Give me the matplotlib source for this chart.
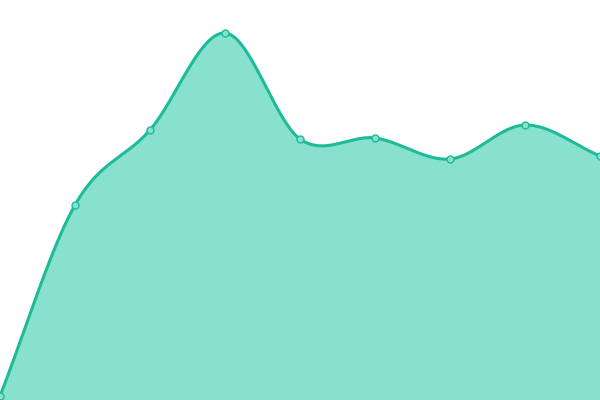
import numpy as np
import matplotlib
matplotlib.use('Agg')
import matplotlib.pyplot as plt

# values (bottom of chart = 0)
x_vals = [0, 1, 2, 3, 4, 5, 6, 7, 8]
y_vals = [4, 195, 270, 367, 261, 262, 241, 275, 244]

line_color = '#1dbb98'
fill_color = '#88e0cf'


def catmull_rom(xs, ys, steps=40):
    # smooth the line between the data points (display only)
    xs = np.asarray(xs, float)
    ys = np.asarray(ys, float)
    px = np.concatenate([[2 * xs[0] - xs[1]], xs, [2 * xs[-1] - xs[-2]]])
    py = np.concatenate([[2 * ys[0] - ys[1]], ys, [2 * ys[-1] - ys[-2]]])
    out_x, out_y = [], []
    for i in range(1, len(px) - 2):
        t = np.linspace(0, 1, steps, endpoint=False)
        for p, out in ((px, out_x), (py, out_y)):
            p0, p1, p2, p3 = p[i - 1], p[i], p[i + 1], p[i + 2]
            m1 = (p2 - p0) / 2
            m2 = (p3 - p1) / 2
            h00 = 2 * t**3 - 3 * t**2 + 1
            h10 = t**3 - 2 * t**2 + t
            h01 = -2 * t**3 + 3 * t**2
            h11 = t**3 - t**2
            out.extend(h00 * p1 + h10 * m1 + h01 * p2 + h11 * m2)
    out_x.append(xs[-1])
    out_y.append(ys[-1])
    return np.array(out_x), np.array(out_y)


sx, sy = catmull_rom(x_vals, y_vals)

fig = plt.figure(figsize=(6, 4), dpi=100)
ax = fig.add_axes([0, 0, 1, 1])
ax.fill_between(sx, 0, sy, color=fill_color, linewidth=0)
ax.plot(sx, sy, color=line_color, linewidth=2.2, solid_capstyle='round')
ax.plot(x_vals, y_vals, 'o', markersize=5, markerfacecolor=fill_color,
        markeredgecolor=line_color, markeredgewidth=1)
ax.set_xlim(0, 8)
ax.set_ylim(0, 400)
ax.axis('off')

plt.savefig('out.png')
